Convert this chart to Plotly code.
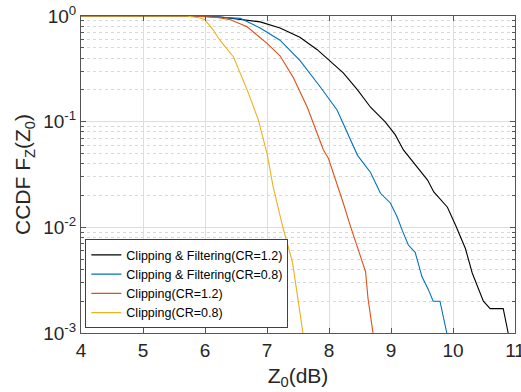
import plotly.graph_objects as go

# Clipping & Filtering (CR=1.2)
cf12_x = [4.0, 5.8, 6.25, 6.89, 7.21, 7.53, 7.81, 8.02, 8.23, 8.46, 8.67, 8.91, 9.07, 9.20, 9.43, 9.59, 9.69, 9.91, 10.04, 10.20, 10.31, 10.49, 10.60, 10.81, 10.89]
cf12_y = [1.0, 1.0, 0.98, 0.88, 0.77, 0.63, 0.48, 0.37, 0.29, 0.20, 0.137, 0.099, 0.075, 0.054, 0.037, 0.028, 0.0216, 0.0155, 0.0105, 0.0063, 0.0037, 0.0020, 0.0017, 0.0017, 0.001]

# Clipping & Filtering (CR=0.8)
cf08_x = [4.0, 5.8, 6.2, 6.57, 6.89, 7.21, 7.53, 7.86, 8.13, 8.30, 8.46, 8.67, 8.83, 8.99, 9.10, 9.18, 9.28, 9.39, 9.50, 9.60, 9.68, 9.79, 9.90]
cf08_y = [1.0, 1.0, 0.98, 0.95, 0.77, 0.59, 0.38, 0.213, 0.129, 0.078, 0.048, 0.033, 0.021, 0.017, 0.0125, 0.0094, 0.0068, 0.0058, 0.0034, 0.0026, 0.0020, 0.0020, 0.001]

# Clipping (CR=1.2)
c12_x = [4.0, 5.8, 6.2, 6.41, 6.68, 7.0, 7.21, 7.42, 7.65, 7.81, 7.91, 7.99, 8.13, 8.23, 8.34, 8.47, 8.59, 8.63, 8.71]
c12_y = [1.0, 1.0, 0.97, 0.92, 0.79, 0.55, 0.42, 0.264, 0.137, 0.078, 0.054, 0.045, 0.026, 0.017, 0.0105, 0.0063, 0.0038, 0.0021, 0.001]

# Clipping (CR=0.8)
c08_x = [4.0, 5.7, 5.92, 6.0, 6.13, 6.24, 6.46, 6.68, 6.86, 7.0, 7.10, 7.26, 7.41, 7.50, 7.58]
c08_y = [1.0, 1.0, 0.957, 0.92, 0.74, 0.59, 0.41, 0.20, 0.104, 0.050, 0.024, 0.0098, 0.0047, 0.0021, 0.001]

names = ["Clipping & Filtering(CR=1.2)", "Clipping & Filtering(CR=0.8)",
         "Clipping(CR=1.2)", "Clipping(CR=0.8)"]
colors = ["#000000", "#0072BD", "#D95319", "#EDB120"]

x_ticks = [4, 5, 6, 7, 8, 9, 10, 11]
y_tickvals = [1e-3, 1e-2, 1e-1, 1]
y_ticktext = ["10<sup>-3</sup>", "10<sup>-2</sup>", "10<sup>-1</sup>", "10<sup>0</sup>"]

fig = go.Figure()
for xs, ys, nm, c in zip([cf12_x, cf08_x, c12_x, c08_x], [cf12_y, cf08_y, c12_y, c08_y], names, colors):
    fig.add_trace(go.Scatter(x=xs, y=ys, mode="lines", name=nm,
                             line=dict(color=c, width=1.1)))

minor_vals = [k * 10 ** e for e in (-3, -2, -1) for k in range(2, 10)]
font = "Liberation Sans, Arial, sans-serif"

fig.update_layout(
    width=521, height=392,
    margin=dict(l=81, r=6, t=16, b=59, autoexpand=False),
    paper_bgcolor="white", plot_bgcolor="white",
    font=dict(family=font, size=19, color="#262626"),
    showlegend=True,
    legend=dict(x=0.01, y=0.015, xanchor="left", yanchor="bottom",
                bgcolor="white", bordercolor="#404040", borderwidth=1,
                font=dict(size=12.5, color="#000000"),
                tracegroupgap=0, itemwidth=30),
    xaxis=dict(range=[4, 11], tickvals=x_ticks, ticks="inside", ticklen=5,
               showgrid=True, gridcolor="#dedede", gridwidth=1,
               showline=True, linecolor="#555555", linewidth=1, mirror="ticks",
               zeroline=False, tickcolor="#555555", automargin=False,
               ticklabeloverflow="allow",
               title=dict(text="Z<sub>0</sub>(dB)", font=dict(size=21), standoff=8)),
    yaxis=dict(type="log", range=[-3, 0], tickvals=y_tickvals, ticktext=y_ticktext,
               ticks="inside", ticklen=5, tickcolor="#555555", automargin=False,
               showgrid=True, gridcolor="#dedede", gridwidth=1,
               showline=True, linecolor="#555555", linewidth=1, mirror="allticks",
               zeroline=False, ticklabeloverflow="allow",
               minor=dict(tickvals=minor_vals, ticks="inside", ticklen=3,
                          tickcolor="#555555", showgrid=True,
                          gridcolor="#d8d8d8", griddash="dot", gridwidth=1),
               title=dict(text="CCDF F<sub>Z</sub>(Z<sub>0</sub>)", font=dict(size=21), standoff=6)),
)

fig.write_html("out.html", config={"displayModeBar": False},
               post_script="document.body.style.margin='0px';document.body.style.overflow='hidden';")
